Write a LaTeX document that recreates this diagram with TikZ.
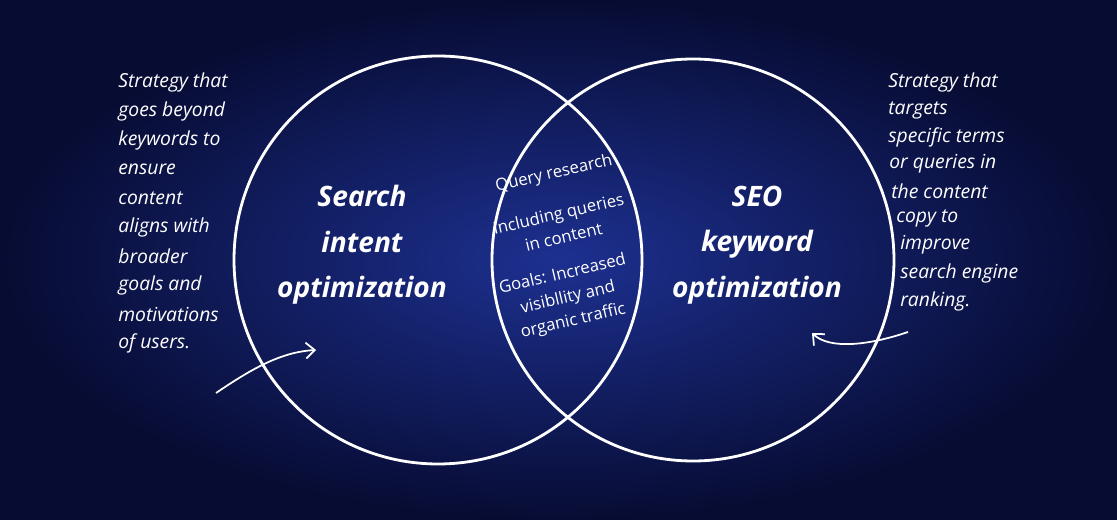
\documentclass[tikz,border=0pt]{standalone}
\usepackage{fontspec}
\setmainfont{Open Sans}
\usetikzlibrary{arrows.meta}
\definecolor{navydark}{HTML}{070C33}
\definecolor{navymid}{HTML}{1D3090}
\tikzset{
  side/.style={text=white, font=\itshape\fontsize{11}{20}\selectfont, anchor=west, inner sep=0pt},
  big/.style={text=white, font=\bfseries\itshape\fontsize{16}{26}\selectfont, align=center},
  mid/.style={text=white, font=\fontsize{9.5}{13.5}\selectfont, align=center, rotate=13, inner sep=1pt},
  ring/.style={draw=white, line width=1.6pt},
  pointer/.style={draw=white, line width=1pt, -{Straight Barb[length=5pt,width=9pt]}}
}
\begin{document}
\begin{tikzpicture}[x=0.02cm, y=-0.02cm]
  \useasboundingbox (0,0) rectangle (1117,520);
  \shade[inner color=navymid, outer color=navydark] (0,0) rectangle (1117,520);
  % circles
  \draw[ring] (438,260) circle (204);
  \draw[ring] (693,260) circle (201);
  % titles
  \node[big] (left) at (362,245) {Search\\intent\\optimization};
  \node[big] (right) at (757,245) {SEO\\keyword\\optimization};
  % overlap
  \node[mid] (q1) at (554,174) {Query research};
  \node[mid] (q2) at (561,225) {Including queries\\in content};
  \node[mid] (q3) at (568,298) {Goals: Increased\\visibllity and\\organic traffic};
  % left note
  \foreach \t [count=\i] in {Strategy that, goes beyond, keywords to, ensure, content, aligns with, broader, goals and, motivations, of users.}
    \node[side] (l\i) at (118,{82+29*(\i-1)}) {\t};
  % right note
  \node[side] (r1) at (888,82) {Strategy that};
  \node[side] (r2) at (888,110) {targets};
  \node[side] (r3) at (888,137) {specific terms};
  \node[side] (r4) at (889,164) {or queries in};
  \node[side] (r5) at (891,191) {the content};
  \node[side] (r6) at (896,218) {copy to};
  \node[side] (r7) at (900,245) {improve};
  \node[side] (r8) at (900,273) {search engine};
  \node[side] (r9) at (900,301) {ranking.};
  % arrows
  \coordinate (la) at (216,393);
  \coordinate (lb) at (316,350);
  \draw[pointer] (la) .. controls (250,370) and (280,352) .. (lb);
  \coordinate (ra) at (908,332);
  \coordinate (rb) at (812,333);
  \draw[pointer] (ra) .. controls (870,345) and (830,350) .. (rb);
\end{tikzpicture}
\end{document}
